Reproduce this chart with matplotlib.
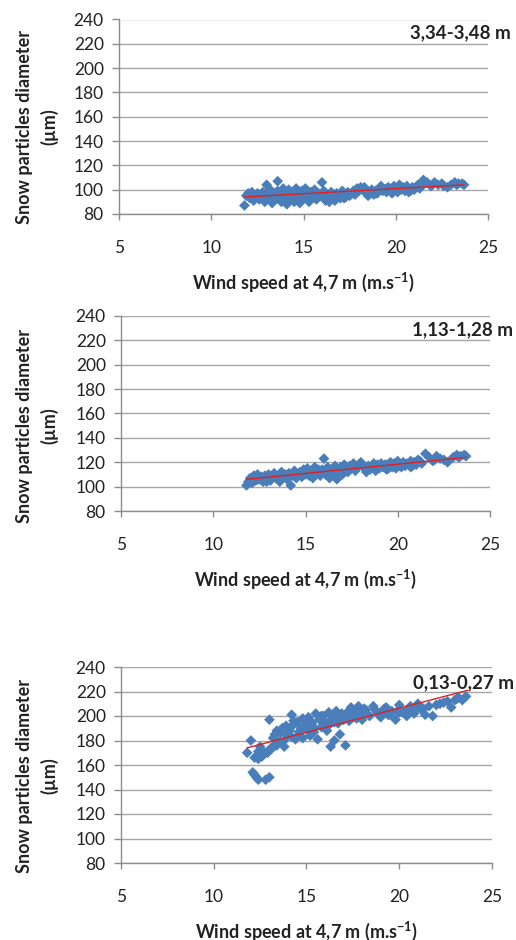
import matplotlib
matplotlib.use("Agg")
import matplotlib.pyplot as plt

plt.rcParams['font.family'] = ['Lato', 'DejaVu Sans']

# ---------------- data ----------------
x_top = [11.8, 11.9, 12.0, 12.1, 12.2, 12.3, 12.4, 12.5, 12.6, 12.7, 12.8, 12.9, 13.0, 13.0, 13.1,
         13.2, 13.3, 13.4, 13.5, 13.6, 13.6, 13.7, 13.8, 13.9, 14.0, 14.1, 14.2, 14.3, 14.4, 14.5,
         14.6, 14.7, 14.8, 14.9, 15.0, 15.1, 15.2, 15.3, 15.4, 15.5, 15.6, 15.7, 15.8, 15.9, 16.0,
         16.1, 16.2, 16.3, 16.4, 16.5, 16.6, 16.7, 16.8, 16.9, 17.0, 17.1, 17.2, 17.3, 17.4, 17.5,
         17.6, 17.7, 17.8, 17.9, 18.0, 18.1, 18.2, 18.3, 18.4, 18.5, 18.6, 18.7, 18.8, 18.9, 19.0,
         19.1, 19.2, 19.3, 19.4, 19.5, 19.6, 19.7, 19.8, 19.9, 20.0, 20.1, 20.2, 20.3, 20.4, 20.5,
         20.6, 20.7, 20.8, 20.9, 21.0, 21.2, 21.4, 21.5, 21.7, 21.9, 22.1, 22.3, 22.5, 22.8, 23.0,
         23.2, 23.4, 23.6, 23.7, 13.2, 14.0, 14.8, 15.6, 16.4, 17.0, 12.6, 13.8, 15.0,
         12.2, 12.8, 13.3, 13.9, 14.3, 14.7, 15.2, 15.7, 16.2, 16.7, 17.2, 17.7, 18.3, 18.9,
         19.5, 20.1, 20.7, 21.3, 22.0, 22.6, 23.3]
y_top = [87, 95, 97, 93, 96, 91, 94, 97, 92, 95, 98, 90, 104, 96, 93,
         100, 89, 97, 92, 107, 99, 94, 90, 101, 96, 88, 100, 93, 98, 90,
         101, 95, 89, 99, 93, 101, 96, 90, 98, 94, 100, 92, 97, 95, 106,
         99, 93, 96, 90, 98, 94, 91, 97, 95, 93, 99, 96, 94, 98, 95,
         97, 99, 96, 101, 99, 102, 100, 102, 97, 95, 98, 100, 96, 99, 97,
         101, 103, 99, 100, 98, 102, 100, 97, 103, 101, 98, 104, 100, 102, 99,
         103, 101, 99, 102, 100, 104, 103, 108, 106, 103, 106, 104, 105, 102, 104,
         106, 105, 105, 104, 95, 92, 96, 96, 92, 96, 96, 96, 97,
         98, 93, 95, 91, 96, 92, 99, 95, 91, 96, 93, 97, 99, 97,
         101, 100, 98, 101, 104, 103, 104]

x_mid = [11.8, 11.9, 12.0, 12.1, 12.2, 12.3, 12.4, 12.5, 12.6, 12.7, 12.8, 12.9, 13.0, 13.1, 13.2,
         13.3, 13.4, 13.5, 13.6, 13.7, 13.8, 13.9, 14.0, 14.1, 14.2, 14.3, 14.4, 14.5, 14.6, 14.7,
         14.8, 14.9, 15.0, 15.1, 15.2, 15.3, 15.4, 15.5, 15.6, 15.7, 15.8, 15.9, 16.0, 16.1, 16.2,
         16.3, 16.4, 16.5, 16.6, 16.7, 16.8, 16.9, 17.0, 17.1, 17.2, 17.3, 17.4, 17.5, 17.6, 17.7,
         17.8, 17.9, 18.0, 18.1, 18.2, 18.3, 18.4, 18.5, 18.6, 18.7, 18.8, 18.9, 19.0, 19.1, 19.2,
         19.3, 19.4, 19.5, 19.6, 19.7, 19.8, 19.9, 20.0, 20.1, 20.2, 20.3, 20.4, 20.5, 20.6, 20.7,
         20.8, 20.9, 21.0, 21.1, 21.3, 21.5, 21.7, 21.9, 22.1, 22.3, 22.5, 23.0, 23.2, 23.4, 23.6,
         23.7, 12.4, 13.0, 13.6, 14.4, 15.2, 16.0, 16.6, 17.2, 17.8, 18.6, 19.4,
         12.3, 12.9, 13.5, 14.1, 14.7, 15.3, 15.9, 16.5, 17.1, 17.7, 18.3, 18.9, 19.5, 20.1,
         20.7, 21.2, 22.0, 22.7, 23.3]
y_mid = [101, 104, 107, 103, 109, 105, 110, 106, 108, 104, 109, 106, 110, 105, 108,
         111, 107, 109, 104, 112, 108, 110, 106, 111, 101, 109, 113, 107, 110, 112,
         108, 114, 110, 115, 109, 113, 107, 116, 111, 114, 109, 113, 123, 110, 116,
         107, 114, 111, 117, 106, 113, 116, 110, 118, 114, 112, 117, 115, 119, 113,
         116, 118, 120, 117, 115, 112, 117, 114, 116, 119, 113, 117, 115, 119, 116,
         118, 114, 117, 120, 116, 119, 115, 121, 118, 116, 120, 117, 119, 118, 121,
         117, 120, 118, 122, 119, 127, 124, 121, 125, 123, 122, 124, 126, 125, 126,
         125, 106, 108, 110, 110, 112, 112, 113, 114, 116, 117, 118,
         108, 104, 107, 109, 111, 110, 114, 109, 112, 116, 113, 118, 115, 117,
         116, 121, 122, 120, 124]

x_bot = [11.8, 12.0, 12.1, 12.2, 12.3, 12.4, 12.4, 12.5, 12.6, 12.7, 12.8, 12.9, 13.0, 13.0, 13.1,
         13.2, 13.3, 13.4, 13.5, 13.6, 13.7, 13.8, 13.9, 14.0, 14.1, 14.2, 14.2, 14.3, 14.4, 14.5,
         14.6, 14.7, 14.8, 14.9, 15.0, 15.1, 15.2, 15.3, 15.4, 15.5, 15.6, 15.7, 15.8, 15.9, 16.0,
         16.1, 16.2, 16.3, 16.4, 16.5, 16.6, 16.7, 16.8, 16.9, 17.0, 17.1, 17.2, 17.3, 17.4, 17.5,
         17.6, 17.7, 17.8, 17.9, 18.0, 18.2, 18.4, 18.6, 18.8, 19.0, 19.2, 19.4, 19.6, 19.8, 20.0,
         20.2, 20.4, 20.6, 20.8, 21.0, 21.2, 21.4, 21.6, 21.8, 22.0, 22.4, 22.8, 23.0, 23.2, 23.4,
         23.6, 12.2, 12.5, 12.4, 12.9, 13.1, 12.6, 13.4, 13.8, 14.6, 15.4, 16.2, 17.0, 18.0, 19.0,
         20.0, 21.0, 16.3, 16.5, 16.8, 17.1, 14.0, 15.0, 16.0, 19.5, 20.5,
         13.3, 13.7, 14.3, 14.8, 15.3, 15.8, 16.4, 16.9, 17.5, 18.1, 18.7, 19.3, 19.9, 20.6,
         21.3, 22.2, 22.6, 23.1]
y_bot = [170, 180, 154, 152, 150, 148, 165, 175, 172, 169, 148, 170, 150, 197, 174,
         182, 176, 188, 179, 186, 190, 175, 192, 185, 188, 201, 183, 193, 181, 195,
         187, 190, 182, 196, 189, 199, 184, 193, 187, 202, 181, 197, 191, 200, 195,
         188, 203, 175, 198, 180, 204, 194, 185, 200, 197, 176, 203, 196, 207, 199,
         204, 198, 208, 201, 197, 205, 200, 208, 203, 199, 206, 201, 204, 197, 209,
         203, 200, 207, 202, 210, 205, 201, 208, 200, 209, 211, 207, 213, 215, 213,
         216, 166, 168, 171, 171, 173, 167, 176, 180, 185, 190, 193, 197, 201, 203,
         203, 207, 194, 195, 198, 200, 189, 193, 196, 201, 206,
         185, 190, 196, 198, 195, 200, 201, 202, 204, 206, 205, 207, 204, 208,
         206, 210, 212, 214]

trend_x = [11.8, 23.7]
trend_top = [94, 104]
trend_mid = [106, 124]
trend_bot = [174, 221]

labels = ['3,34-3,48 m', '1,13-1,28 m', '0,13-0,27 m']
xticks = [5, 10, 15, 20, 25]
yticks = [80, 100, 120, 140, 160, 180, 200, 220, 240]

# ---------------- figure ----------------
W, H = 516, 940
fig = plt.figure(figsize=(W / 100, H / 100), dpi=100)

boxes = [(119, 488, 19.5, 214), (121, 490, 316, 511), (121, 492, 667, 863)]
ylab_y = [126.5, 426, 776]
xs = [x_top, x_mid, x_bot]
ys = [y_top, y_mid, y_bot]
trends = [trend_top, trend_mid, trend_bot]
ann_pos = [(0.789, 0.93), (0.789, 0.928), (0.787, 0.918)]

grid_col = '#a6a6a6'
txt_col = '#222222'
for i in range(3):
    l, r, t, b = boxes[i]
    ax = fig.add_axes([l / W, 1 - b / H, (r - l) / W, (b - t) / H])
    ax.set_xlim(5, 25)
    ax.set_ylim(80, 240)
    ax.set_xticks(xticks)
    ax.set_yticks(yticks)
    ax.yaxis.grid(True, color=grid_col, linewidth=1.0)
    ax.set_axisbelow(True)
    for s in ['top', 'right']:
        ax.spines[s].set_visible(False)
    for s in ['left', 'bottom']:
        ax.spines[s].set_color('#8c8c8c')
        ax.spines[s].set_linewidth(1.0)
    ax.tick_params(axis='y', length=5, width=1, color='#8c8c8c', pad=6,
                   labelsize=12.5, labelcolor=txt_col)
    ax.tick_params(axis='x', length=4, width=1, color='#8c8c8c', pad=15,
                   labelsize=12.5, labelcolor=txt_col)
    ax.scatter(xs[i], ys[i], marker='D', s=30, color='#4a7ebb', edgecolors='none',
               zorder=3)
    ax.plot(trend_x, trends[i], color='#e02020', linewidth=1.0, zorder=4)
    ax.set_xlabel('Wind speed at 4,7 m (m.s$^{\\mathregular{-1}}$)', fontsize=13,
                  fontweight='bold', color=txt_col, labelpad=10)
    fig.text(37 / W, 1 - ylab_y[i] / H, 'Snow particles diameter\n(µm)', fontsize=13,
             fontweight='bold', color=txt_col, rotation=90, ha='center', va='center',
             linespacing=1.45, multialignment='center')
    ax.text(ann_pos[i][0], ann_pos[i][1], labels[i], transform=ax.transAxes,
            fontsize=13.5, fontweight='bold', color=txt_col, ha='left', va='center',
            clip_on=False)

fig.savefig('out.png', dpi=100)
